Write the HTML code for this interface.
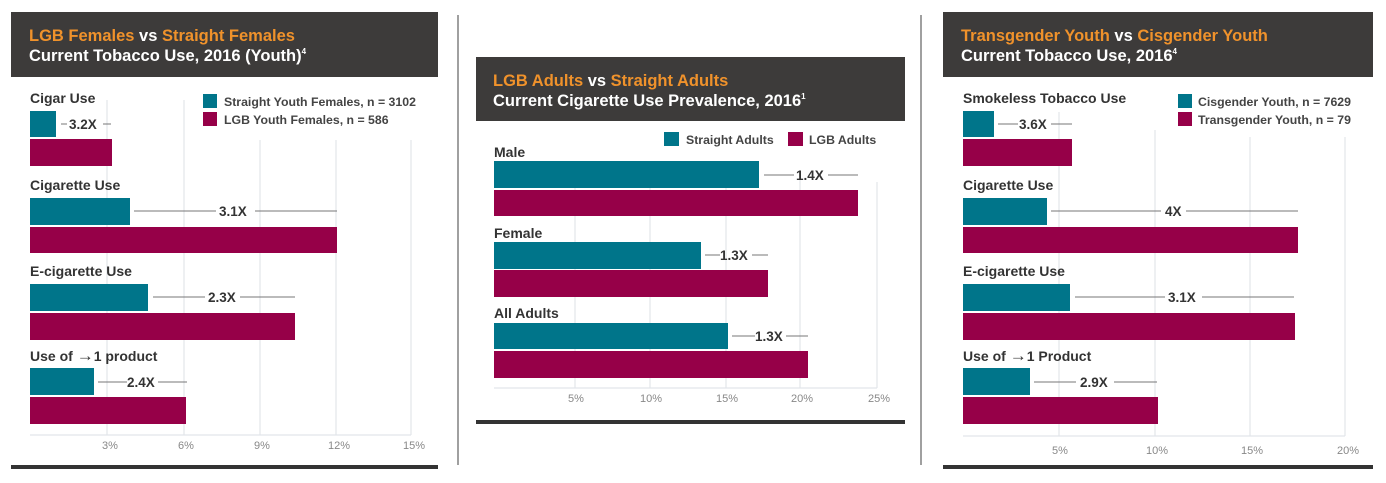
<!DOCTYPE html>
<html><head><meta charset="utf-8"><style>
html,body{margin:0;padding:0;background:#fff;}
svg{display:block;font-family:"Liberation Sans",sans-serif;}
.h{font-weight:bold;font-size:16.5px;}
.o{fill:#f0922b}.w{fill:#fff}
.lab{font-weight:bold;font-size:14px;fill:#333}
.ar{font-size:17px}
.leg{font-weight:bold;font-size:12.3px;fill:#444}
.tk{font-size:11px;fill:#888}
.x{font-weight:bold;font-size:13.5px;fill:#333}
.t{fill:#00758a}.m{fill:#960048}
.g{stroke:#e2e5ea;stroke-width:1.2}
.ln{stroke:#777;stroke-width:1}
</style></head><body>
<svg width="1386" height="483" viewBox="0 0 1386 483">
<rect x="457" y="15" width="2" height="450" fill="#a0a0a0"/>
<rect x="920" y="15" width="2" height="450" fill="#a0a0a0"/>

<!-- Panel 1 -->
<rect x="11" y="12" width="427" height="65" fill="#3d3b3a"/>
<text x="29" y="41" class="h"><tspan class="o">LGB Females</tspan><tspan class="w"> vs </tspan><tspan class="o">Straight Females</tspan></text>
<text x="29" y="61" class="h w">Current Tobacco Use, 2016 (Youth)<tspan font-size="8" dy="-7">4</tspan></text>
<g class="g"><line x1="107" y1="100" x2="107" y2="435"/><line x1="184" y1="100" x2="184" y2="435"/><line x1="260" y1="140" x2="260" y2="435"/><line x1="336" y1="140" x2="336" y2="435"/><line x1="411" y1="140" x2="411" y2="435"/><line x1="30" y1="435" x2="411" y2="435"/></g>
<rect x="203" y="94" width="14" height="14" class="t"/><text x="224" y="106" class="leg">Straight Youth Females, n = 3102</text>
<rect x="203" y="112" width="14" height="14" class="m"/><text x="224" y="124" class="leg">LGB Youth Females, n = 586</text>
<text x="30" y="103" class="lab">Cigar Use</text>
<rect x="30" y="111" width="26" height="26" class="t"/><rect x="30" y="139" width="82" height="27" class="m"/>
<line x1="61" y1="124" x2="67" y2="124" class="ln"/><text x="69" y="129" class="x">3.2X</text><line x1="103" y1="124" x2="111" y2="124" class="ln"/>
<text x="30" y="190" class="lab">Cigarette Use</text>
<rect x="30" y="198" width="100" height="27" class="t"/><rect x="30" y="227" width="307" height="26" class="m"/>
<line x1="134" y1="211" x2="216" y2="211" class="ln"/><text x="219" y="216" class="x">3.1X</text><line x1="255" y1="211" x2="337" y2="211" class="ln"/>
<text x="30" y="276" class="lab">E-cigarette Use</text>
<rect x="30" y="284" width="118" height="27" class="t"/><rect x="30" y="313" width="265" height="27" class="m"/>
<line x1="153" y1="297" x2="205" y2="297" class="ln"/><text x="208" y="302" class="x">2.3X</text><line x1="240" y1="297" x2="295" y2="297" class="ln"/>
<text x="30" y="361" class="lab">Use of <tspan class="ar">→</tspan>1 product</text>
<rect x="30" y="368" width="64" height="27" class="t"/><rect x="30" y="397" width="156" height="27" class="m"/>
<line x1="98" y1="382" x2="127" y2="382" class="ln"/><text x="127" y="387" class="x">2.4X</text><line x1="158" y1="382" x2="187" y2="382" class="ln"/>
<text x="110" y="449" class="tk" text-anchor="middle">3%</text><text x="186" y="449" class="tk" text-anchor="middle">6%</text><text x="262" y="449" class="tk" text-anchor="middle">9%</text><text x="339" y="449" class="tk" text-anchor="middle">12%</text><text x="414" y="449" class="tk" text-anchor="middle">15%</text>
<rect x="11" y="465" width="427" height="4" fill="#333"/>

<!-- Panel 2 -->
<rect x="476" y="57" width="429" height="64" fill="#3d3b3a"/>
<text x="493" y="86" class="h"><tspan class="o">LGB Adults</tspan><tspan class="w"> vs </tspan><tspan class="o">Straight Adults</tspan></text>
<text x="493" y="106" class="h w">Current Cigarette Use Prevalence, 2016<tspan font-size="8" dy="-7">1</tspan></text>
<g class="g"><line x1="575" y1="175" x2="575" y2="388"/><line x1="650" y1="175" x2="650" y2="388"/><line x1="726" y1="175" x2="726" y2="388"/><line x1="800" y1="175" x2="800" y2="388"/><line x1="877" y1="182" x2="877" y2="388"/><line x1="494" y1="388" x2="877" y2="388"/></g>
<rect x="664" y="132" width="15" height="14" class="t"/><text x="686" y="144" class="leg">Straight Adults</text>
<rect x="788" y="132" width="15" height="14" class="m"/><text x="809" y="144" class="leg">LGB Adults</text>
<text x="494" y="157" class="lab">Male</text>
<rect x="494" y="161" width="265" height="27" class="t"/><rect x="494" y="190" width="364" height="26" class="m"/>
<line x1="764" y1="175" x2="794" y2="175" class="ln"/><text x="796" y="180" class="x">1.4X</text><line x1="828" y1="175" x2="858" y2="175" class="ln"/>
<text x="494" y="238" class="lab">Female</text>
<rect x="494" y="242" width="207" height="27" class="t"/><rect x="494" y="270" width="274" height="27" class="m"/>
<line x1="705" y1="255" x2="720" y2="255" class="ln"/><text x="720" y="260" class="x">1.3X</text><line x1="752" y1="255" x2="768" y2="255" class="ln"/>
<text x="494" y="318" class="lab">All Adults</text>
<rect x="494" y="323" width="234" height="26" class="t"/><rect x="494" y="351" width="314" height="27" class="m"/>
<line x1="732" y1="336" x2="755" y2="336" class="ln"/><text x="755" y="341" class="x">1.3X</text><line x1="786" y1="336" x2="808" y2="336" class="ln"/>
<text x="576" y="402" class="tk" text-anchor="middle">5%</text><text x="651" y="402" class="tk" text-anchor="middle">10%</text><text x="727" y="402" class="tk" text-anchor="middle">15%</text><text x="802" y="402" class="tk" text-anchor="middle">20%</text><text x="879" y="402" class="tk" text-anchor="middle">25%</text>
<rect x="476" y="420" width="429" height="4" fill="#333"/>

<!-- Panel 3 -->
<rect x="943" y="12" width="430" height="65" fill="#3d3b3a"/>
<text x="961" y="41" class="h"><tspan class="o">Transgender Youth</tspan><tspan class="w"> vs </tspan><tspan class="o">Cisgender Youth</tspan></text>
<text x="961" y="61" class="h w">Current Tobacco Use, 2016<tspan font-size="8" dy="-7">4</tspan></text>
<g class="g"><line x1="1059" y1="112" x2="1059" y2="436"/><line x1="1155" y1="130" x2="1155" y2="436"/><line x1="1250" y1="137" x2="1250" y2="436"/><line x1="1345" y1="137" x2="1345" y2="436"/><line x1="963" y1="436" x2="1345" y2="436"/></g>
<rect x="1178" y="94" width="14" height="14" class="t"/><text x="1198" y="106" class="leg">Cisgender Youth, n = 7629</text>
<rect x="1178" y="112" width="14" height="14" class="m"/><text x="1198" y="124" class="leg">Transgender Youth, n = 79</text>
<text x="963" y="103" class="lab">Smokeless Tobacco Use</text>
<rect x="963" y="111" width="31" height="26" class="t"/><rect x="963" y="139" width="109" height="27" class="m"/>
<line x1="998" y1="124" x2="1018" y2="124" class="ln"/><text x="1019" y="129" class="x">3.6X</text><line x1="1051" y1="124" x2="1072" y2="124" class="ln"/>
<text x="963" y="190" class="lab">Cigarette Use</text>
<rect x="963" y="198" width="84" height="27" class="t"/><rect x="963" y="227" width="335" height="26" class="m"/>
<line x1="1051" y1="211" x2="1161" y2="211" class="ln"/><text x="1165" y="216" class="x">4X</text><line x1="1186" y1="211" x2="1298" y2="211" class="ln"/>
<text x="963" y="276" class="lab">E-cigarette Use</text>
<rect x="963" y="284" width="107" height="27" class="t"/><rect x="963" y="313" width="332" height="27" class="m"/>
<line x1="1075" y1="297" x2="1165" y2="297" class="ln"/><text x="1168" y="302" class="x">3.1X</text><line x1="1202" y1="297" x2="1294" y2="297" class="ln"/>
<text x="963" y="361" class="lab">Use of <tspan class="ar">→</tspan>1 Product</text>
<rect x="963" y="368" width="67" height="27" class="t"/><rect x="963" y="397" width="195" height="27" class="m"/>
<line x1="1034" y1="382" x2="1076" y2="382" class="ln"/><text x="1080" y="387" class="x">2.9X</text><line x1="1114" y1="382" x2="1157" y2="382" class="ln"/>
<text x="1060" y="454" class="tk" text-anchor="middle">5%</text><text x="1157" y="454" class="tk" text-anchor="middle">10%</text><text x="1252" y="454" class="tk" text-anchor="middle">15%</text><text x="1348" y="454" class="tk" text-anchor="middle">20%</text>
<rect x="943" y="465" width="430" height="4" fill="#333"/>
</svg>
</body></html>
